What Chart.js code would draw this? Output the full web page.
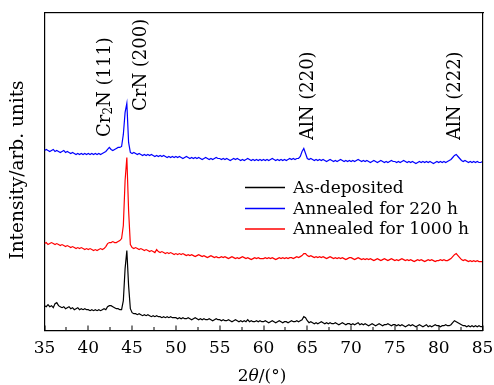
<!DOCTYPE html>
<html lang="en">
<head>
<meta charset="UTF-8">
<title>XRD</title>
<script src="https://cdn.jsdelivr.net/npm/chart.js"></script>
<style>body{margin:0;background:#fff}</style>
</head>
<body>
<canvas id="grafico" width="494" height="385"></canvas>
<script>
// scan grid 35..85 step 0.2
const theta = []
for (let i = 0; i <= 250; i++) theta.push(+(35 + i * 0.2).toFixed(1))

// intensities (arb. units, already offset like in the figure)
const asDeposited = [
  25,24,26,24,25,23,27,28,25,24,23,24,22,23,24,22,23,21,22,23,21,22,21,22,21,
  21,20,21,20,21,20,21,20,21,22,21,24,25,25,24,23,22,22,21,21,30,62,80,45,22,
  18,17,17,16,17,16,15,16,15,16,15,14,15,14,15,14,14,13,14,13,14,13,14,13,13,
  13,12,13,12,13,12,12,13,12,11,12,13,12,11,12,11,12,11,11,12,11,10,11,12,11,
  11,10,11,10,10,11,10,9,10,11,10,9,10,9,10,9,11,9,10,9,9,10,9,10,9,
  9,10,9,8,9,10,9,8,9,10,9,8,9,9,8,9,10,9,9,10,9,10,11,14,13,
  10,8,9,8,7,8,7,8,9,8,7,8,7,8,7,7,8,7,6,7,8,7,6,7,7,
  6,7,6,7,8,6,7,6,7,6,5,6,7,6,5,6,7,6,5,6,6,7,6,5,6,
  6,5,6,5,6,5,4,5,6,5,6,5,4,5,6,5,4,5,6,4,5,4,5,6,5,
  5,4,5,5,6,5,5,6,8,10,9,8,7,6,5,5,4,5,4,5,4,5,4,5,4,
  4
]
const annealed220 = [
  180,181,180,179,180,181,179,180,179,178,179,180,178,179,178,177,178,177,176,177,176,177,176,177,176,
  177,176,177,176,177,176,177,176,177,178,179,181,183,181,180,181,182,183,183,184,196,218,227,188,178,
  177,178,177,176,177,176,175,176,175,176,175,176,175,174,175,174,175,174,175,174,173,174,173,174,173,
  174,173,174,173,172,173,174,173,172,173,172,173,172,173,172,171,172,173,172,171,172,171,172,173,172,
  172,171,172,171,172,171,170,171,172,171,172,171,170,171,170,171,172,171,170,171,170,171,170,171,170,
  171,170,171,170,171,172,171,170,171,170,171,170,171,170,171,172,171,172,171,172,172,174,179,182,177,
  172,171,172,171,170,171,170,171,170,171,170,169,170,171,170,169,170,169,170,171,170,169,170,169,170,
  169,170,169,170,171,170,169,170,169,170,169,168,169,170,169,168,169,170,169,168,169,168,169,170,169,
  169,168,169,168,169,170,169,168,169,168,169,168,167,168,169,168,169,168,169,168,169,168,167,168,169,
  168,169,168,169,168,169,170,171,173,175,176,174,172,170,169,170,169,168,169,168,169,168,169,168,168,
  169
]
const annealed1000 = [
  87,88,86,87,88,87,86,87,86,85,86,85,84,85,84,83,84,83,82,83,82,83,82,81,82,
  81,82,81,80,81,80,81,82,81,82,84,87,88,88,89,88,88,89,90,92,105,150,173,120,86,
  83,82,83,82,81,82,81,80,81,80,79,80,79,78,81,79,78,79,78,77,78,77,78,77,76,
  77,76,77,76,77,76,75,76,75,76,75,74,75,76,75,74,75,74,73,74,75,74,73,74,73,
  73,74,73,74,73,72,73,74,73,72,73,72,73,74,73,72,73,72,71,72,73,72,73,72,72,
  72,73,72,73,72,73,72,71,72,73,72,73,72,73,72,73,73,72,73,74,73,74,75,77,77,
  75,74,75,74,73,74,73,74,73,74,73,72,73,74,73,72,73,72,73,72,73,72,71,72,73,
  73,72,71,72,73,72,71,72,71,72,71,72,71,70,71,72,71,70,71,72,71,70,71,72,71,
  70,71,70,71,72,71,70,71,70,71,70,69,70,71,70,71,70,69,70,71,70,71,70,69,70,
  70,71,70,71,70,70,71,72,74,76,77,75,73,71,70,71,70,69,70,69,70,69,70,69,69,
  69
]

const seriesNames = ['As-deposited', 'Annealed for 220 h', 'Annealed for 1000 h']
const seriesColors = ['#000000', '#0000ff', '#ff0000']
const xTicks = [35, 40, 45, 50, 55, 60, 65, 70, 75, 80, 85]
const peakNames = ['Cr|2|N (111)', 'CrN (200)', 'AlN (220)', 'AlN (222)']

const serif = 'DejaVu Serif'
const pts = arr => theta.map((t, i) => ({ x: t, y: arr[i] }))

const extras = {
  id: 'extras',
  afterDraw(chart) {
    const c = chart.ctx
    const xs = chart.scales.x
    const ys = chart.scales.y
    const L = Math.round(xs.getPixelForValue(35))
    const R = Math.round(xs.getPixelForValue(85))
    const T = Math.round(ys.getPixelForValue(317))
    const B = Math.round(ys.getPixelForValue(0))
    c.save()
    c.fillStyle = '#000'
    // frame: top and right sides (left/bottom are the axis borders)
    c.fillRect(L - 1, T - 1, R - L + 2, 1.2)
    c.fillRect(R - 1, T - 1, 1.2, B - T + 1)

    // inward ticks on the bottom axis
    for (let v = 35; v <= 85; v += 2.5) {
      const x = Math.round(xs.getPixelForValue(v))
      const len = v % 5 === 0 ? 5.5 : 4
      c.fillRect(x - 0.5, B - len, 1, len)
    }

    // x title
    c.font = 'italic 17px "' + serif + '"'
    const w2 = c.measureText('θ').width
    c.font = '17px "' + serif + '"'
    const p1 = '2', p3 = '/(°)'
    const w1 = c.measureText(p1).width, w3 = c.measureText(p3).width
    const x0 = 262 - (w1 + w2 + w3) / 2
    c.textBaseline = 'alphabetic'
    c.textAlign = 'left'
    c.fillText(p1, x0, 381)
    c.font = 'italic 17px "' + serif + '"'
    c.fillText('θ', x0 + w1, 381)
    c.font = '17px "' + serif + '"'
    c.fillText(p3, x0 + w1 + w2, 381)

    // y title
    c.save()
    c.translate(18, 170)
    c.rotate(-Math.PI / 2)
    c.textAlign = 'center'
    c.textBaseline = 'middle'
    c.font = '18.5px "' + serif + '"'
    c.fillText('Intensity/arb. units', 0, 0)
    c.restore()

    // peak labels, rotated, written bottom -> top
    const spots = [[105, 137], [141.5, 111], [308, 140], [455, 140]]
    peakNames.forEach((name, k) => {
      c.save()
      c.translate(spots[k][0], spots[k][1])
      c.rotate(-Math.PI / 2)
      c.textAlign = 'left'
      c.textBaseline = 'middle'
      let px = 0
      name.split('|').forEach((part, j) => {
        const sub = j === 1
        c.font = (sub ? '12px' : '18px') + ' "' + serif + '"'
        c.fillText(part, px, sub ? 4 : 0)
        px += c.measureText(part).width
      })
      c.restore()
    })

    // legend
    c.font = '17px "' + serif + '"'
    c.textBaseline = 'middle'
    c.textAlign = 'left'
    const rows = [187.5, 208.5, 229]
    seriesNames.forEach((n, k) => {
      c.strokeStyle = seriesColors[k]
      c.lineWidth = 1.3
      c.beginPath()
      c.moveTo(245, rows[k])
      c.lineTo(285, rows[k])
      c.stroke()
      c.fillStyle = '#000'
      c.fillText(n, 293, rows[k] + 1)
    })
    c.restore()
  }
}

new Chart(document.getElementById('grafico'), {
  type: 'line',
  data: {
    datasets: [
      { label: seriesNames[0], data: pts(asDeposited), borderColor: seriesColors[0] },
      { label: seriesNames[1], data: pts(annealed220), borderColor: seriesColors[1] },
      { label: seriesNames[2], data: pts(annealed1000), borderColor: seriesColors[2] }
    ]
  },
  options: {
    responsive: false,
    animation: false,
    layout: { padding: { left: 44.5, right: 11.5, top: 13.3, bottom: 0 } },
    plugins: { legend: { display: false }, tooltip: { enabled: false } },
    elements: { point: { radius: 0 }, line: { borderWidth: 1.2, tension: 0 } },
    scales: {
      x: {
        type: 'linear', min: 35, max: 85,
        afterBuildTicks: s => { s.ticks = xTicks.map(v => ({ value: v })) },
        ticks: { font: { family: serif, size: 17 }, color: '#000', padding: 8, maxRotation: 0, autoSkip: false },
        grid: { display: false, drawTicks: false },
        border: { color: '#000', width: 1.2 },
        afterFit: s => { s.height = 385 - 330.7; s.paddingLeft = 0; s.paddingRight = 0 }
      },
      y: {
        min: 0, max: 317,
        ticks: { display: false },
        grid: { display: false, drawTicks: false },
        border: { color: '#000', width: 1.2 },
        afterFit: s => { s.width = 0 }
      }
    }
  },
  plugins: [extras]
})
</script>
</body>
</html>
